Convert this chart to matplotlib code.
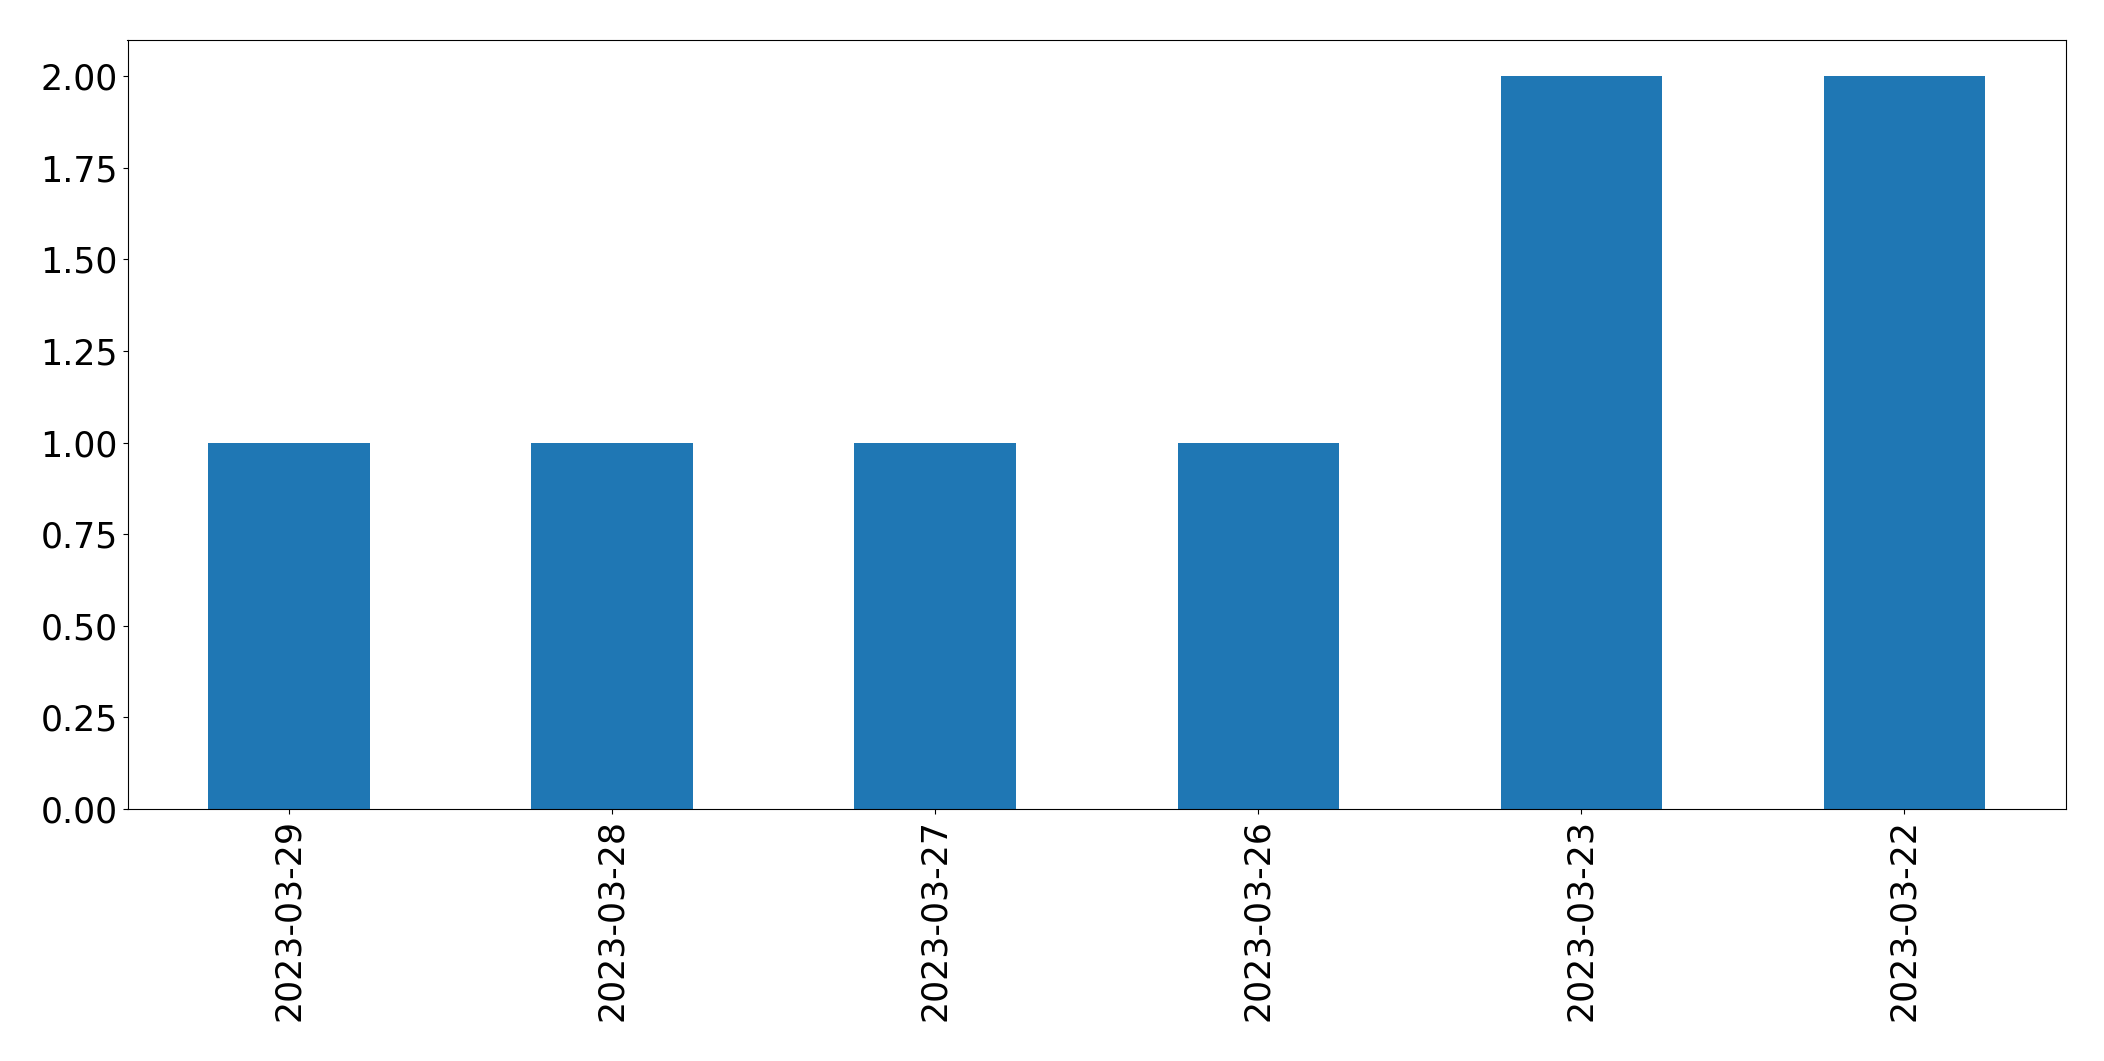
import matplotlib
matplotlib.use('Agg')
import matplotlib.pyplot as plt
import pandas as pd

dates = ['2023-03-29', '2023-03-28', '2023-03-27', '2023-03-26', '2023-03-23', '2023-03-22']
counts = [1, 1, 1, 1, 2, 2]

plt.rcParams['font.size'] = 25

s = pd.Series(counts, index=dates)

fig = plt.figure(figsize=(21.04, 10.61), dpi=100)
ax = fig.add_axes([127.5 / 2104, 1 - 809 / 1061, (2066 - 127.5) / 2104, (809 - 39.5) / 1061])
s.plot(kind='bar', ax=ax, color='#1f77b4')
ax.tick_params(labelsize=25)

fig.savefig('out.png', dpi=100)
